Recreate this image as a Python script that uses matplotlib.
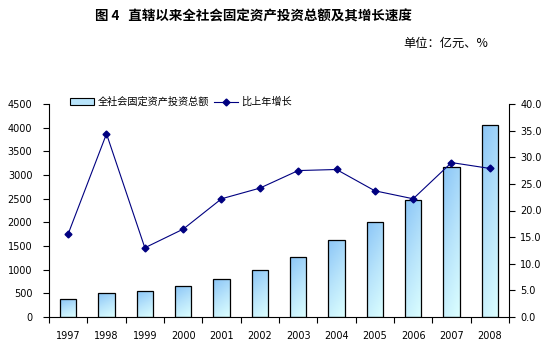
import matplotlib
matplotlib.use('Agg')
import numpy as np
import matplotlib.pyplot as plt
from matplotlib.colors import LinearSegmentedColormap
from matplotlib.lines import Line2D
from matplotlib.patches import Patch

plt.rcParams['font.family'] = ['Noto Sans CJK SC', 'DejaVu Sans']
plt.rcParams['axes.unicode_minus'] = False

# 数据
years = ['1997', '1998', '1999', '2000', '2001', '2002',
         '2003', '2004', '2005', '2006', '2007', '2008']
invest = [374, 500, 543, 649, 796, 987, 1261, 1620, 2001, 2466, 3162, 4056]
growth = [15.6, 34.4, 13.0, 16.5, 22.2, 24.2, 27.5, 27.7, 23.7, 22.2, 29.0, 27.9]

title = '图 4   直辖以来全社会固定资产投资总额及其增长速度'
unit_text = '单位：亿元、%'
bar_label = '全社会固定资产投资总额'
line_label = '比上年增长'

fig = plt.figure(figsize=(5.55, 3.5), dpi=100)
ax = fig.add_axes([49 / 555, 1 - 317 / 350, 460 / 555, 213 / 350])
ax2 = ax.twinx()

x = np.arange(len(years))
bars = ax.bar(x, invest, width=0.43, facecolor='none', edgecolor='black',
              linewidth=0.9, zorder=3)

# 渐变填充（左上蓝，右下浅青）
cmap = LinearSegmentedColormap.from_list('bl', ['#8cc6f7', '#b8e4fb', '#dcffff'])
gy, gx = np.mgrid[0:1:60j, 0:1:20j]
grad = 0.75 * gy + 0.25 * gx
for b in bars:
    x0, y0 = b.get_x(), b.get_y()
    w, h = b.get_width(), b.get_height()
    im = ax.imshow(grad, cmap=cmap, extent=(x0, x0 + w, y0, y0 + h),
                   origin='upper', aspect='auto', zorder=2,
                   interpolation='bilinear')
    im.set_clip_path(b)

tick_font = {'family': 'DejaVu Sans', 'size': 7}

ax.set_xlim(-0.5, len(years) - 0.5)
ax.set_ylim(0, 4500)
ax.set_yticks(np.arange(0, 4501, 500))
ax.set_yticklabels([str(v) for v in range(0, 4501, 500)], fontdict=tick_font)
ax.set_xticks(x)
ax.set_xticklabels(years, fontdict=tick_font)
ax.set_xticks(np.arange(-0.5, len(years), 1), minor=True)
ax.tick_params(axis='x', which='major', length=0, pad=10)
ax.tick_params(axis='x', which='minor', length=4, direction='out', width=0.8)
ax.tick_params(axis='y', length=4, direction='out', width=0.8, pad=8)

ax2.plot(x, growth, color='#000080', linewidth=0.8, marker='D', markersize=3.5,
         zorder=4)
ax2.set_ylim(0, 40)
ax2.set_yticks(np.arange(0, 40.1, 5))
ax2.set_yticklabels(['%.1f' % v for v in np.arange(0, 40.1, 5)], fontdict=tick_font)
ax2.tick_params(axis='y', length=4, direction='out', width=0.8, pad=4)

for a in (ax, ax2):
    a.spines['top'].set_visible(False)
ax.spines['right'].set_visible(False)
ax2.spines['left'].set_visible(False)
ax2.spines['bottom'].set_visible(False)
ax2.spines['right'].set_linewidth(0.8)
ax.spines['left'].set_linewidth(0.8)
ax.spines['bottom'].set_linewidth(0.8)

ax.set_zorder(1)
ax2.set_zorder(2)
ax2.patch.set_visible(False)

handles = [Patch(facecolor='#b8e4fb', edgecolor='black', linewidth=0.8),
           Line2D([0], [0], color='#000080', marker='D', markersize=3.5, linewidth=0.8)]
fig.legend(handles, [bar_label, line_label], loc='center left',
           bbox_to_anchor=(66 / 555, 1 - 102 / 350), ncol=2, frameon=False,
           fontsize=7.3, handlelength=2.4, handleheight=0.6, handletextpad=0.3,
           columnspacing=0.5, borderaxespad=0)

fig.text(253 / 555, 1 - 17 / 350, title, ha='center', va='center',
         fontsize=9.7, fontweight='bold')
fig.text(488 / 555, 1 - 43 / 350, unit_text, ha='right', va='center', fontsize=8.8)

fig.savefig('out.png', dpi=100)
